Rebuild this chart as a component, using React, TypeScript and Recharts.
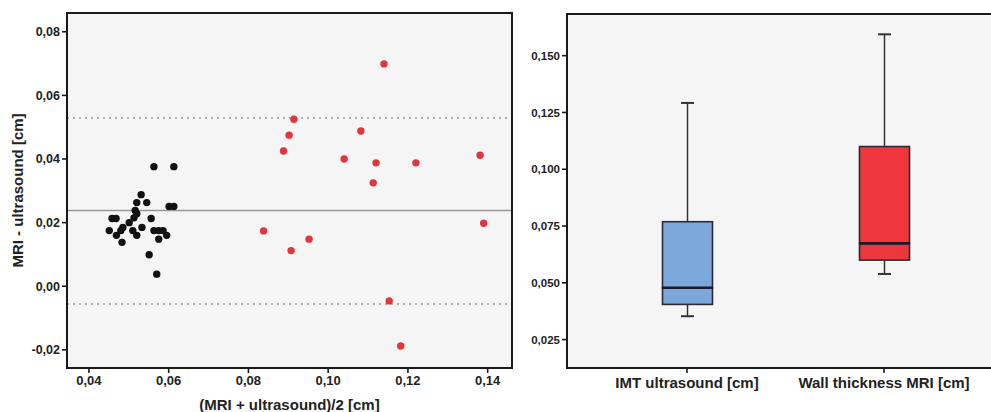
import React from 'react';
import {
    ScatterChart, Scatter, ComposedChart, Bar, XAxis, YAxis, CartesianGrid, ReferenceLine
} from 'recharts';

// Bland-Altman: black group (small mean thickness)
const blackMean = [0.0563, 0.0613, 0.0531, 0.0520, 0.0545, 0.0601, 0.0613, 0.0516, 0.0520, 0.0458, 0.0468, 0.0556, 0.0501, 0.0485, 0.0533, 0.0451, 0.0480, 0.0510, 0.0563, 0.0575, 0.0586, 0.0469, 0.0520, 0.0595, 0.0575, 0.0483, 0.0551, 0.0570, 0.0513];
const blackDiff = [0.0376, 0.0376, 0.0288, 0.0263, 0.0263, 0.0251, 0.0251, 0.0238, 0.0228, 0.0213, 0.0213, 0.0213, 0.0200, 0.0185, 0.0185, 0.0175, 0.0175, 0.0175, 0.0175, 0.0175, 0.0175, 0.0160, 0.0160, 0.0160, 0.0148, 0.0138, 0.0099, 0.0038, 0.0215];

// red group (larger mean thickness)
const redMean = [0.1140, 0.0914, 0.0902, 0.0888, 0.1082, 0.1040, 0.1120, 0.1220, 0.1381, 0.1113, 0.1390, 0.0838, 0.0952, 0.0907, 0.1153, 0.1182];
const redDiff = [0.0699, 0.0525, 0.0475, 0.0425, 0.0488, 0.0400, 0.0388, 0.0388, 0.0412, 0.0325, 0.0198, 0.0174, 0.0148, 0.0112, -0.0046, -0.0188];

const meanDiff = 0.0238;
const upperLimit = 0.0529;
const lowerLimit = -0.0056;

const xTicks = [0.04, 0.06, 0.08, 0.10, 0.12, 0.14];
const yTicks = [-0.02, 0, 0.02, 0.04, 0.06, 0.08];

// box plots
const boxNames = ['IMT ultrasound [cm]', 'Wall thickness MRI [cm]'];
const boxMin = [0.0353, 0.0539];
const boxQ1 = [0.0405, 0.0600];
const boxMedian = [0.0478, 0.0674];
const boxQ3 = [0.0769, 0.1100];
const boxMax = [0.1292, 0.1594];
const boxTicks = [0.025, 0.05, 0.075, 0.1, 0.125, 0.15];
const boxColors = ['#7ba7da', '#ee373d'];

const blackData = blackMean.map((x, i) => ({ x, y: blackDiff[i] }));
const redData = redMean.map((x, i) => ({ x, y: redDiff[i] }));
const boxData = boxNames.map((name, i) => ({
    name,
    base: boxMin[i],
    lowW: boxQ1[i] - boxMin[i],
    boxLow: boxMedian[i] - boxQ1[i],
    boxHigh: boxQ3[i] - boxMedian[i],
    highW: boxMax[i] - boxQ3[i],
}));

const comma = (d: number) => (v: number) => v.toFixed(d).replace('.', ',');
const tickStyle = { fontSize: 12, fontWeight: 700, fill: '#222' };
const labelStyle = { fontSize: 15, fontWeight: 700, fill: '#222' };
const FRAME = '#1a1a1a';
const PLOT_BG = '#f5f5f5';
const frameLine = { stroke: FRAME, strokeWidth: 2 };
const tickLine = { stroke: FRAME, strokeWidth: 1.6 };

const Dot = (color: string) => (p: any) => <circle cx={p.cx} cy={p.cy} r={3.7} fill={color} />;

const Whisker = (capAtTop: boolean) => (p: any) => {
    const cx = p.x + p.width / 2;
    const capY = capAtTop ? p.y : p.y + p.height;
    return (
        <g>
            <line x1={cx} x2={cx} y1={p.y} y2={p.y + p.height} stroke="#333" strokeWidth={1.5} />
            <line x1={cx - 6.5} x2={cx + 6.5} y1={capY} y2={capY} stroke="#333" strokeWidth={2} />
        </g>
    );
};

const BoxPart = (medianAtTop: boolean) => (p: any) => {
    const my = medianAtTop ? p.y : p.y + p.height;
    return (
        <g>
            <rect x={p.x} y={p.y} width={p.width} height={p.height} fill={boxColors[p.index]} stroke="#2b2b35" strokeWidth={1.6} />
            <line x1={p.x} x2={p.x + p.width} y1={my} y2={my} stroke="#1a1a28" strokeWidth={2.6} />
        </g>
    );
};

// plot frame drawn on top of the svg
const frameBox = (left: number, top: number, width: number, height: number): React.CSSProperties => ({
    position: 'absolute', left, top, width, height, border: `2px solid ${FRAME}`, boxSizing: 'border-box', pointerEvents: 'none',
});

const App: React.FC = () => {
    return (
        <div style={{ position: 'fixed', left: 0, top: 0, width: 991, height: 412, overflow: 'hidden', background: '#fff', fontFamily: '"Liberation Sans", Arial, sans-serif' }}>
            {/* Bland-Altman plot */}
            <div style={{ position: 'absolute', left: 0, top: 0 }}>
                <ScatterChart width={530} height={412} margin={{ top: 13, right: 18, bottom: 0, left: 7 }}>
                    <CartesianGrid fill={PLOT_BG} horizontal={false} vertical={false} />
                    <ReferenceLine y={meanDiff} stroke="#999" strokeWidth={1.5} />
                    <ReferenceLine y={upperLimit} stroke="#999" strokeWidth={1.5} strokeDasharray="2 4" />
                    <ReferenceLine y={lowerLimit} stroke="#999" strokeWidth={1.5} strokeDasharray="2 4" />
                    <Scatter data={blackData} shape={Dot('#111')} isAnimationActive={false} />
                    <Scatter data={redData} shape={Dot('#e0363c')} isAnimationActive={false} />
                    <XAxis
                        type="number"
                        dataKey="x"
                        domain={[0.0345, 0.1461]}
                        ticks={xTicks}
                        tickFormatter={comma(2)}
                        allowDataOverflow
                        height={44}
                        tick={{ ...tickStyle, fontSize: 13 }}
                        tickSize={5}
                        tickMargin={3}
                        tickLine={tickLine}
                        axisLine={frameLine}
                        label={{ value: '(MRI + ultrasound)/2 [cm]', position: 'insideBottom', offset: 2, style: labelStyle }}
                    />
                    <YAxis
                        type="number"
                        dataKey="y"
                        domain={[-0.0257, 0.0859]}
                        ticks={yTicks}
                        tickFormatter={comma(2)}
                        allowDataOverflow
                        width={60}
                        tick={{ ...tickStyle, fontSize: 12.5 }}
                        tickSize={5}
                        tickMargin={2}
                        tickLine={tickLine}
                        axisLine={frameLine}
                        label={{ value: 'MRI - ultrasound [cm]', angle: -90, position: 'insideLeft', offset: 11, style: { ...labelStyle, textAnchor: 'middle' } }}
                    />
                </ScatterChart>
            </div>
            <div style={frameBox(66, 12, 447, 357)} />

            {/* Box plots */}
            <div style={{ position: 'absolute', left: 500, top: 0 }}>
                <ComposedChart width={520} height={412} data={boxData} margin={{ top: 14, right: 15, bottom: 0, left: 7 }}>
                    <CartesianGrid fill={PLOT_BG} horizontal={false} vertical={false} />
                    <Bar dataKey="base" stackId="b" barSize={50} fill="transparent" shape={() => <g />} isAnimationActive={false} />
                    <Bar dataKey="lowW" stackId="b" barSize={50} shape={Whisker(false)} isAnimationActive={false} />
                    <Bar dataKey="boxLow" stackId="b" barSize={50} shape={BoxPart(true)} isAnimationActive={false} />
                    <Bar dataKey="boxHigh" stackId="b" barSize={50} shape={BoxPart(false)} isAnimationActive={false} />
                    <Bar dataKey="highW" stackId="b" barSize={50} shape={Whisker(true)} isAnimationActive={false} />
                    <XAxis
                        dataKey="name"
                        type="category"
                        padding={{ left: 21.5, right: 22.5 }}
                        height={44}
                        tick={{ ...tickStyle, fontSize: 15 }}
                        tickSize={5}
                        tickMargin={4}
                        tickLine={tickLine}
                        axisLine={frameLine}
                    />
                    <YAxis
                        type="number"
                        domain={[0.0125, 0.16835]}
                        ticks={boxTicks}
                        tickFormatter={comma(3)}
                        allowDataOverflow
                        width={60}
                        tick={{ ...tickStyle, fontSize: 11.5 }}
                        tickSize={5}
                        tickMargin={2}
                        tickLine={tickLine}
                        axisLine={frameLine}
                    />
                </ComposedChart>
            </div>
            <div style={frameBox(566, 13, 460, 356)} />
        </div>
    );
};

export default App;
